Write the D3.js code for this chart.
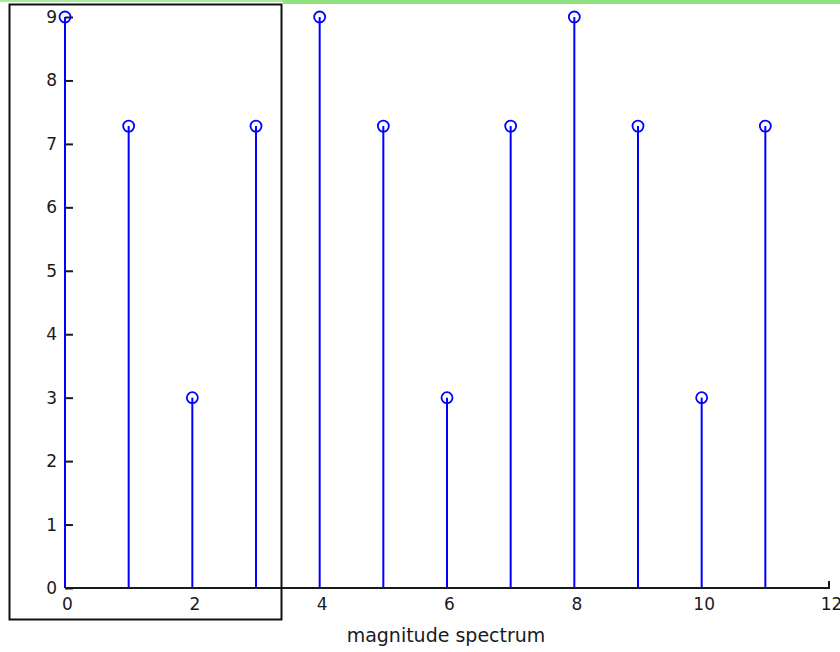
<!DOCTYPE html>
<html>
<head>
<meta charset="utf-8">
<script src="https://cdn.jsdelivr.net/npm/d3@7"></script>
<style>
  body { margin: 0; background: #fff; }
  svg { display: block; }
</style>
</head>
<body>
<div id="chart"></div>
<script>
// stem values, k = 0..11
var bins = [0, 1, 2, 3, 4, 5, 6, 7, 8, 9, 10, 11];
var magnitudes = [9, 7.28, 3, 7.28, 9, 7.28, 3, 7.28, 9, 7.28, 3, 7.28];
var x_ticks = [0, 2, 4, 6, 8, 10, 12];
var y_ticks = [0, 1, 2, 3, 4, 5, 6, 7, 8, 9];
var x_label = 'magnitude spectrum';

var width = 840, height = 652;
var svg = d3.select('#chart').append('svg:svg')
  .attr('width', width)
  .attr('height', height);

var x = d3.scaleLinear().domain([0, 12]).range([65, 829]);
var y = d3.scaleLinear().domain([0, 9]).range([588, 17]);
var font = 'DejaVu Sans, sans-serif';
var ink = '#1a1a1a';

// green strip along the top edge
svg.append('rect').attr('x', 0).attr('y', 0).attr('width', 283).attr('height', 2).attr('fill', '#a6ec9a');
svg.append('rect').attr('x', 283).attr('y', 0).attr('width', width - 283).attr('height', 4).attr('fill', '#8ee27f');

// axes (matlab style: ticks point inward)
var x_axis = svg.append('g')
  .attr('transform', 'translate(0,' + y(0) + ')')
  .call(d3.axisBottom(x).tickValues(x_ticks).tickSize(0).tickPadding(10).tickFormat(d3.format('d')));
x_axis.select('.domain').attr('stroke', ink).attr('stroke-width', 2).attr('d', 'M' + x(0) + ',0H' + x(12) + 'V-7');
x_axis.selectAll('text')
  .attr('dx', 2)
  .attr('font-family', font).attr('font-size', 17).attr('fill', ink);

var y_axis = svg.append('g')
  .attr('transform', 'translate(' + x(0) + ',0)')
  .call(d3.axisRight(y).tickValues(y_ticks).tickSize(8).tickFormat(d3.format('d')));
y_axis.select('.domain').attr('stroke', ink).attr('stroke-width', 2).attr('d', 'M0,' + y(0) + 'V' + y(9));
y_axis.selectAll('line').attr('stroke', ink).attr('stroke-width', 2);
y_axis.selectAll('text')
  .attr('x', -8)
  .attr('text-anchor', 'end')
  .attr('font-family', font).attr('font-size', 17).attr('fill', ink);

svg.append('text')
  .attr('x', 446)
  .attr('y', 642)
  .attr('text-anchor', 'middle')
  .attr('font-family', font)
  .attr('font-size', 19)
  .attr('fill', ink)
  .text(x_label);

// stems
var data = bins.map(function(k, i) { return {k: k, v: magnitudes[i]}; });
svg.append('g').selectAll('line')
  .data(data)
  .join('line')
  .attr('x1', d => x(d.k))
  .attr('x2', d => x(d.k))
  .attr('y1', y(0))
  .attr('y2', d => y(d.v))
  .attr('stroke', '#0000ff')
  .attr('stroke-width', 2);

svg.append('g').selectAll('circle')
  .data(data)
  .join('circle')
  .attr('cx', d => x(d.k))
  .attr('cy', d => y(d.v))
  .attr('r', 5.5)
  .attr('fill', 'none')
  .attr('stroke', '#0000ff')
  .attr('stroke-width', 1.8);

// black box on the left
svg.append('rect')
  .attr('x', 9.5).attr('y', 4.5)
  .attr('width', 272).attr('height', 615)
  .attr('fill', 'none')
  .attr('stroke', '#111')
  .attr('stroke-width', 2);
</script>
</body>
</html>
